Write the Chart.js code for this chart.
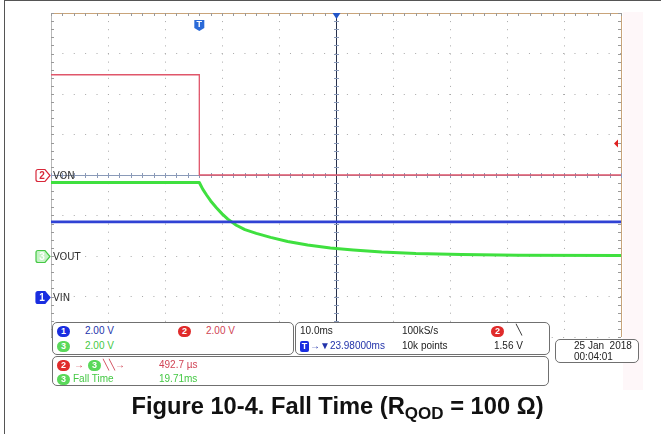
<!DOCTYPE html>
<html>
<head>
<meta charset="utf-8">
<script src="https://cdn.jsdelivr.net/npm/chart.js@4.4.1/dist/chart.umd.min.js"></script>
<style>
body { margin: 0; background: #fff; }
#wrap { position: relative; width: 661px; height: 434px; overflow: hidden; font-family: "Liberation Sans", Arial, sans-serif; }
#frame { position: absolute; left: 4px; top: 0; width: 720px; height: 445px; border: 1.5px solid #555; box-sizing: border-box; }
#tint { position: absolute; left: 623px; top: 12px; width: 20px; height: 378px; background: #fef7f9; }
canvas { position: absolute; left: 0; top: 0; }
.panel { position: absolute; border: 1px solid #707070; border-radius: 5px; background: #fff; box-sizing: border-box; }
.t { position: absolute; font-size: 10px; line-height: 12px; white-space: nowrap; color: #222; }
.b { position: absolute; width: 13px; height: 11px; border-radius: 6px; color: #fff; font-size: 9px; font-weight: bold; text-align: center; line-height: 11px; }
.blue { color: #2233aa; } .red { color: #d04455; } .green { color: #44c844; }
.bb { background: #1a2ee0; } .br { background: #e02b2b; } .bg { background: #5ad85a; }
#caption { position: absolute; left: 7px; top: 393px; width: 661px; text-align: center; font-weight: bold; font-size: 23.7px; color: #111; }
#caption sub { font-size: 17px; vertical-align: -5px; line-height: 0; }
</style>
</head>
<body>
<div id="wrap">
  <div id="tint"></div>
  <canvas id="scope" width="661" height="434"></canvas>
  <div id="frame"></div>

  <div class="panel" style="left:52px;top:322px;width:242px;height:33px;">
    <div class="b bb" style="left:4px;top:3px;">1</div>
    <div class="t blue" style="left:32px;top:2px;">2.00 V</div>
    <div class="b br" style="left:125px;top:3px;">2</div>
    <div class="t red" style="left:153px;top:2px;">2.00 V</div>
    <div class="b bg" style="left:4px;top:18px;">3</div>
    <div class="t green" style="left:32px;top:17px;">2.00 V</div>
  </div>

  <div class="panel" style="left:295px;top:322px;width:255px;height:33px;">
    <div class="t" style="left:4px;top:2px;">10.0ms</div>
    <div class="b bb" style="left:4px;top:18px;width:9px;border-radius:2px;">T</div>
    <div class="t blue" style="left:14px;top:17px;">&#8594;&#9660;23.98000ms</div>
    <div class="t" style="left:106px;top:2px;">100kS/s</div>
    <div class="t" style="left:106px;top:17px;">10k points</div>
    <div class="b br" style="left:195px;top:3px;">2</div>
    <div class="t" style="left:220px;top:1px;">&#9586;</div>
    <div class="t" style="left:198px;top:17px;">1.56 V</div>
  </div>

  <div class="panel" style="left:52px;top:356px;width:497px;height:30px;">
    <div class="b br" style="left:4px;top:3px;">2</div>
    <div class="t red" style="left:21px;top:2px;">&#8594;</div>
    <div class="b bg" style="left:35px;top:3px;">3</div>
    <div class="t red" style="left:50px;top:2px;">&#9586;&#9586;&#8594;</div>
    <div class="t red" style="left:106px;top:2px;">492.7 &#181;s</div>
    <div class="b bg" style="left:4px;top:17px;">3</div>
    <div class="t green" style="left:20px;top:16px;">Fall Time</div>
    <div class="t green" style="left:106px;top:16px;">19.71ms</div>
  </div>

  <div class="panel" style="left:555px;top:339px;width:84px;height:24px;">
    <div class="t" style="left:18px;top:0px;">25 Jan&nbsp; 2018</div>
    <div class="t" style="left:18px;top:11px;">00:04:01</div>
  </div>

  <div id="caption">Figure 10-4. Fall Time (R<sub>QOD</sub> = 100 &#937;)</div>
</div>

<script>
// time axis: 10 div x 10 ms, trigger sits 23.98 ms left of screen centre
const tMin = -26.02;
const tMax = 73.98;
const msPerDiv = 10;
const voltsPerDiv = 2;

// channel 2 (VON)
const vonTime = [-26.02, 0, 0, 73.98];
const vonVolts = [4.95, 4.95, 0, 0];

// channel 1 (VIN)
const vinTime = [-26.02, 73.98];
const vinVolts = [3.69, 3.69];

// channel 3 (VOUT)
const voutTime = [-26.02, 0, 0.6, 1.3, 2.0, 3.0, 4.0, 5.0, 6.5, 8.0, 10.0, 12.5, 15.5, 19.0, 23.0, 27.0, 32.0, 38.0, 46.0, 56.0, 73.98];
const voutVolts = [3.63, 3.63, 3.30, 3.00, 2.72, 2.38, 2.08, 1.82, 1.52, 1.30, 1.12, 0.92, 0.72, 0.54, 0.40, 0.30, 0.20, 0.12, 0.07, 0.04, 0.02];

const trigLevel = 1.56;

const pts = (xs, ys) => xs.map((x, i) => ({ x: x, y: ys[i] }));

const gridMs = [];
for (let k = 0; k <= 10; k++) gridMs.push(tMin + k * msPerDiv);

// scope furniture: graticule edges, centre cross with ticks, channel/trigger markers
const scopeDeco = {
    id: 'scopeDeco',
    beforeDatasetsDraw(chart) {
        const { ctx, chartArea: a } = chart;
        const xs = chart.scales.x;
        const cx = xs.getPixelForValue((tMin + tMax) / 2);
        const cy = (a.top + a.bottom) / 2;
        const hStep = (a.right - a.left) / 50;
        const vStep = (a.bottom - a.top) / 40;
        ctx.save();
        ctx.lineWidth = 1;

        // top / right edges
        ctx.strokeStyle = '#c9a47a';
        ctx.beginPath();
        ctx.moveTo(a.left, a.top + 0.5); ctx.lineTo(a.right, a.top + 0.5);
        ctx.moveTo(a.right + 0.5, a.top); ctx.lineTo(a.right + 0.5, a.bottom);
        ctx.stroke();
        ctx.strokeStyle = '#b8b8b8';
        ctx.beginPath();
        ctx.moveTo(a.left + 0.5, a.top); ctx.lineTo(a.left + 0.5, a.bottom);
        ctx.stroke();

        // edge ticks
        ctx.strokeStyle = '#999';
        ctx.beginPath();
        for (let x = a.left; x <= a.right + 1; x += hStep) {
            ctx.moveTo(Math.round(x) + 0.5, a.top); ctx.lineTo(Math.round(x) + 0.5, a.top + 3);
        }
        for (let y = a.top; y <= a.bottom + 1; y += vStep) {
            ctx.moveTo(a.left, Math.round(y) + 0.5); ctx.lineTo(a.left + 3, Math.round(y) + 0.5);
            ctx.moveTo(a.right, Math.round(y) + 0.5); ctx.lineTo(a.right - 3, Math.round(y) + 0.5);
        }
        ctx.stroke();

        // horizontal centre line
        ctx.strokeStyle = '#8a9ab8';
        ctx.beginPath();
        ctx.moveTo(a.left, Math.round(cy) + 0.5); ctx.lineTo(a.right, Math.round(cy) + 0.5);
        for (let x = a.left; x <= a.right + 1; x += hStep) {
            ctx.moveTo(Math.round(x) + 0.5, cy - 2); ctx.lineTo(Math.round(x) + 0.5, cy + 3);
        }
        ctx.stroke();

        // vertical centre line
        ctx.strokeStyle = '#27304a';
        ctx.beginPath();
        ctx.moveTo(Math.round(cx) + 0.5, a.top); ctx.lineTo(Math.round(cx) + 0.5, a.bottom);
        ctx.stroke();
        ctx.strokeStyle = '#8a9ab8';
        ctx.beginPath();
        for (let y = a.top; y <= a.bottom + 1; y += vStep) {
            ctx.moveTo(cx - 2, Math.round(y) + 0.5); ctx.lineTo(cx + 3, Math.round(y) + 0.5);
        }
        ctx.stroke();
        ctx.restore();
    },
    afterDatasetsDraw(chart) {
        const { ctx, chartArea: a } = chart;
        const xs = chart.scales.x;
        ctx.save();

        // channel ground markers
        const marks = [
            { axis: 'yCh2', num: '2', label: 'VON', fill: '#fff', stroke: '#d8283a', text: '#d8283a' },
            { axis: 'yCh3', num: '3', label: 'VOUT', fill: '#c6f2c6', stroke: '#45c845', text: '#fff' },
            { axis: 'yCh1', num: '1', label: 'VIN', fill: '#1a2ee0', stroke: '#1a2ee0', text: '#fff' }
        ];
        marks.forEach(m => {
            const y = Math.round(chart.scales[m.axis].getPixelForValue(0)) + 0.5;
            const x0 = a.left - 15;
            ctx.beginPath();
            ctx.moveTo(x0 + 2, y - 6);
            ctx.lineTo(x0 + 9, y - 6);
            ctx.lineTo(x0 + 14, y);
            ctx.lineTo(x0 + 9, y + 6);
            ctx.lineTo(x0 + 2, y + 6);
            ctx.quadraticCurveTo(x0, y + 6, x0, y + 4);
            ctx.lineTo(x0, y - 4);
            ctx.quadraticCurveTo(x0, y - 6, x0 + 2, y - 6);
            ctx.closePath();
            ctx.fillStyle = m.fill;
            ctx.fill();
            ctx.strokeStyle = m.stroke;
            ctx.lineWidth = 1.2;
            ctx.stroke();
            ctx.fillStyle = m.text;
            ctx.font = 'bold 10px "Liberation Sans", Arial, sans-serif';
            ctx.textAlign = 'center';
            ctx.textBaseline = 'middle';
            ctx.fillText(m.num, x0 + 6, y + 0.5);
            ctx.fillStyle = '#333';
            ctx.font = '11px "DejaVu Sans Condensed", "DejaVu Sans", sans-serif';
            ctx.textAlign = 'left';
            ctx.fillText(m.label, a.left + 2, y + 0.5);
        });

        // trigger position marker "T"
        const tx = xs.getPixelForValue(0);
        ctx.fillStyle = '#2a6ad8';
        ctx.beginPath();
        ctx.moveTo(tx - 5, a.top + 7);
        ctx.lineTo(tx + 5, a.top + 7);
        ctx.lineTo(tx + 5, a.top + 15);
        ctx.lineTo(tx, a.top + 18);
        ctx.lineTo(tx - 5, a.top + 15);
        ctx.closePath();
        ctx.fill();
        ctx.fillStyle = '#fff';
        ctx.font = 'bold 9px "Liberation Sans", Arial, sans-serif';
        ctx.textAlign = 'center';
        ctx.textBaseline = 'middle';
        ctx.fillText('T', tx, a.top + 12);

        // horizontal position marker
        const cx = Math.round(xs.getPixelForValue((tMin + tMax) / 2)) + 0.5;
        ctx.fillStyle = '#2255c8';
        ctx.beginPath();
        ctx.moveTo(cx - 4, a.top);
        ctx.lineTo(cx + 4, a.top);
        ctx.lineTo(cx, a.top + 6);
        ctx.closePath();
        ctx.fill();

        // trigger level arrow
        const ly = chart.scales.yCh2.getPixelForValue(trigLevel);
        ctx.fillStyle = '#e02020';
        ctx.beginPath();
        ctx.moveTo(a.right - 7, ly);
        ctx.lineTo(a.right - 3, ly - 4);
        ctx.lineTo(a.right - 3, ly + 4);
        ctx.closePath();
        ctx.fill();
        ctx.restore();
    }
};

const hidden = (min, max) => ({ type: 'linear', display: false, min: min, max: max });

new Chart(document.getElementById('scope'), {
    type: 'scatter',
    data: {
        datasets: [
            {
                label: 'VIN', data: pts(vinTime, vinVolts), yAxisID: 'yCh1',
                showLine: true, borderColor: '#3042d4', borderWidth: 2.8, pointRadius: 0
            },
            {
                label: 'VON', data: pts(vonTime, vonVolts), yAxisID: 'yCh2',
                showLine: true, borderColor: '#e0566a', borderWidth: 1.3, pointRadius: 0
            },
            {
                label: 'VOUT', data: pts(voutTime, voutVolts), yAxisID: 'yCh3',
                showLine: true, borderColor: '#3fe03f', borderWidth: 3, pointRadius: 0,
                tension: 0, borderJoinStyle: 'round'
            }
        ]
    },
    options: {
        responsive: false,
        animation: false,
        events: [],
        layout: { padding: { left: 51, top: 13, right: 40, bottom: 97 } },
        plugins: { legend: { display: false }, tooltip: { enabled: false } },
        scales: {
            x: {
                type: 'linear', min: tMin, max: tMax,
                afterBuildTicks: s => { s.ticks = gridMs.map(v => ({ value: v })); },
                ticks: { display: false },
                grid: { color: '#a8a8a8', drawTicks: false },
                border: { display: false, dash: [1, 7.1] }
            },
            yCh2: {
                type: 'linear', position: 'left', min: -4 * voltsPerDiv, max: 4 * voltsPerDiv,
                ticks: { display: false, stepSize: voltsPerDiv },
                grid: { color: '#a8a8a8', drawTicks: false },
                border: { display: false, dash: [1, 10.38] }
            },
            yCh3: hidden(-2 * voltsPerDiv, 6 * voltsPerDiv),
            yCh1: hidden(-1 * voltsPerDiv, 7 * voltsPerDiv)
        }
    },
    plugins: [scopeDeco]
});
</script>
</body>
</html>
